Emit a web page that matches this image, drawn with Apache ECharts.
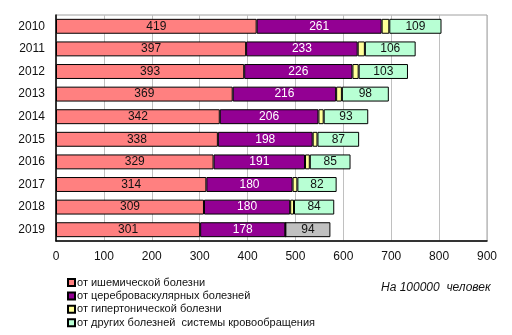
<!DOCTYPE html>
<html>
<head>
<meta charset="utf-8">
<script src="https://cdn.jsdelivr.net/npm/echarts@6/dist/echarts.min.js"></script>
<style>
  html, body { margin: 0; padding: 0; background: #fff; }
  #chart { width: 512px; height: 335px; }
</style>
</head>
<body>
<div id="chart"></div>
<script>
// Death rates from circulatory diseases, per 100 000 people
const years = ['2010', '2011', '2012', '2013', '2014', '2015', '2016', '2017', '2018', '2019'];
const ischemic = [419, 397, 393, 369, 342, 338, 329, 314, 309, 301];
const cerebrovascular = [261, 233, 226, 216, 206, 198, 191, 180, 180, 178];
const hypertensive = [16, 15, 13, 12, 11, 10, 10, 10, 8, 0];
const otherCirculatory = [109, 106, 103, 98, 93, 87, 85, 82, 84, 94];
const xTicks = [0, 100, 200, 300, 400, 500, 600, 700, 800, 900];

const seriesNames = [
  'от ишемической болезни',
  'от цереброваскулярных болезней',
  'от гипертонической болезни',
  'от других болезней  системы кровообращения'
];

const font = 'Arial, "Liberation Sans", sans-serif';
const chart = echarts.init(document.getElementById('chart'), null, { renderer: 'canvas' });

const border = { borderColor: '#000', borderWidth: 1 };
const labelBase = { show: true, position: 'inside', fontFamily: font, fontSize: 12 };

// one legend block per entry, stacked in a single column under the plot
const legends = seriesNames.map((name, i) => ({
  orient: 'vertical',
  left: 67,
  top: 277 + i * 13.4,
  padding: 0,
  itemWidth: 7,
  itemHeight: 7,
  icon: 'rect',
  selectedMode: false,
  textStyle: { fontFamily: font, fontSize: 11, color: '#111', padding: [0, 0, 0, -3] },
  data: [name]
}));

chart.setOption({
  animation: false,
  grid: { left: 56, right: 25, top: 15, bottom: 94, show: true, borderColor: '#a0a0a0', borderWidth: 1 },
  legend: legends,
  graphic: [{
    type: 'text',
    left: 381,
    top: 282,
    style: { text: 'На 100000  человек', font: 'italic 12px ' + font, fill: '#111' }
  }],
  xAxis: {
    type: 'value',
    min: 0,
    max: 900,
    interval: 100,
    axisLine: { show: true, lineStyle: { color: '#000', width: 1.5 } },
    axisTick: { show: false },
    splitLine: { show: true, lineStyle: { color: '#c0c0c0', width: 1 } },
    axisLabel: {
      fontFamily: font, fontSize: 12, color: '#111', margin: 10,
      formatter: v => xTicks.includes(v) ? String(v) : ''
    }
  },
  yAxis: {
    type: 'category',
    data: years,
    inverse: true,
    axisLine: { show: true, onZero: false, lineStyle: { color: '#000', width: 1.5 } },
    axisTick: { show: false },
    axisLabel: { fontFamily: font, fontSize: 12, color: '#111', margin: 11 }
  },
  series: [
    {
      name: seriesNames[0], type: 'bar', stack: 'total', barWidth: '66%',
      itemStyle: Object.assign({ color: '#ff8080' }, border),
      label: Object.assign({ color: '#111' }, labelBase),
      data: ischemic
    },
    {
      name: seriesNames[1], type: 'bar', stack: 'total',
      itemStyle: Object.assign({ color: '#930093' }, border),
      label: Object.assign({ color: '#fff' }, labelBase),
      data: cerebrovascular
    },
    {
      name: seriesNames[2], type: 'bar', stack: 'total',
      itemStyle: Object.assign({ color: '#ffff99' }, border),
      label: { show: false },
      data: hypertensive
    },
    {
      name: seriesNames[3], type: 'bar', stack: 'total',
      itemStyle: Object.assign({ color: '#b8ffd4' }, border),
      label: Object.assign({ color: '#111' }, labelBase),
      data: otherCirculatory.map((v, i) =>
        years[i] === '2019' ? { value: v, itemStyle: { color: '#c0c0c0' } } : v)
    }
  ]
});
</script>
</body>
</html>
